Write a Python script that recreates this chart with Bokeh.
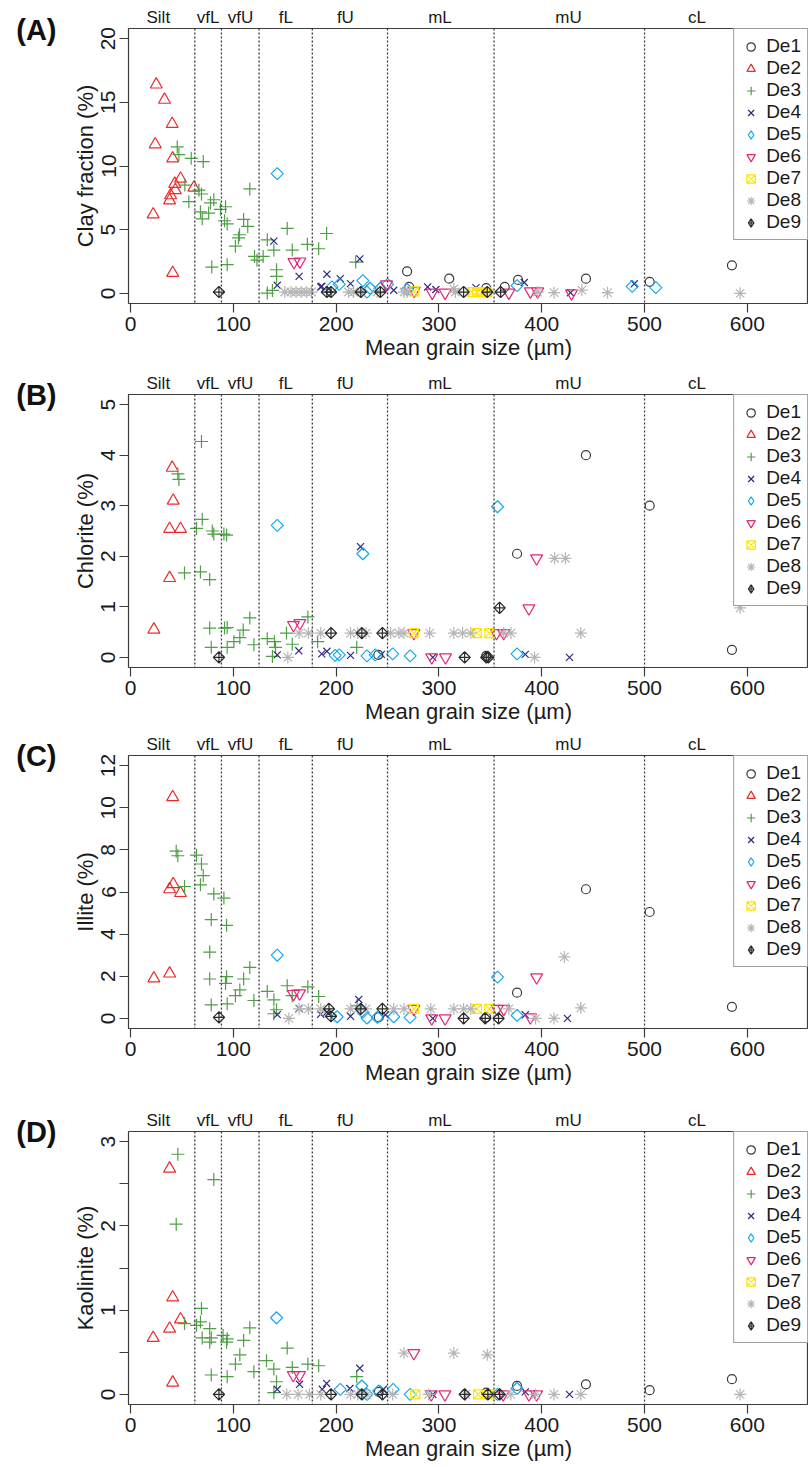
import numpy as np
from bokeh.plotting import figure
from bokeh.models import (Range1d, FixedTicker, Span, Legend, LegendItem, LinearAxis,
                          CDSView, IndexFilter)
from bokeh.layouts import column
from bokeh.embed import file_html
from bokeh.resources import INLINE

FONT = "Liberation Sans"

series_names = ["De1", "De2", "De3", "De4", "De5", "De6", "De7", "De8", "De9"]
series_colors = ["#3a3a3a", "#ec2a2a", "#4f9f45", "#2e2a84", "#14a8ee",
                 "#e42575", "#ffe400", "#b5b5b5", "#2a2a2a"]
series_markers = ["circle", "triangle", "cross", "x", "square",
                  "inverted_triangle", "square_x", "asterisk", "square_x"]
legend_markers = ["circle", "triangle", "cross", "x", "diamond",
                  "inverted_triangle", "square_x", "asterisk", "diamond_cross"]
series_angles = [0, 0, 0, 0, np.pi / 4, 0, 0, 0, np.pi / 4]
series_sizes = [9, 12, 13, 10, 8.5, 12, 9, 12, 8]

zone_edges = [62.5, 88.4, 125, 176.8, 250, 353.6, 500]
zone_labels = ["Silt", "vfL", "vfU", "fL", "fU", "mL", "mU", "cL"]
zone_label_x = [27, 75.5, 107, 151, 209, 301, 426, 551]

x_ticks = [0, 100, 200, 300, 400, 500, 600]

# ---------------- Panel A: clay fraction ----------------
a_de1_x = [269, 271, 310, 346, 364, 377, 443, 505, 585]
a_de1_y = [1.73, 0.5, 1.15, 0.4, 0.5, 1.05, 1.15, 0.9, 2.2]
a_de2_x = [22, 25, 33, 24, 40.5, 41, 48.6, 43, 43.5, 39, 38, 61.6, 41]
a_de2_y = [6.2, 16.4, 15.2, 11.7, 13.3, 10.6, 9.0, 8.6, 8.1, 7.7, 7.3, 8.3, 1.6]
a_de3_x = [45.4, 47, 59, 70.7, 52.8, 56.7, 66.5, 69, 68, 69.7, 77.8, 81, 76, 87.5, 92.4,
           91.4, 94, 110, 114, 106, 105, 102, 116, 120.6, 123, 129, 79, 94, 133, 139.4,
           142, 142, 133, 138, 152.4, 157.3, 172, 183, 190.7, 219]
a_de3_y = [11.5, 10.9, 10.6, 10.35, 8.5, 7.2, 8.1, 7.8, 6.4, 5.85, 7.1, 7.35, 6.3, 6.6, 6.8,
           5.7, 5.45, 5.8, 5.25, 4.6, 4.35, 3.7, 8.2, 2.9, 2.6, 2.9, 2.06, 2.25, 4.2, 3.4,
           1.85, 1.33, 0.02, 0.23, 5.1, 3.4, 3.85, 3.5, 4.7, 2.45]
a_de4_x = [139.4, 142.7, 164, 191, 204, 223, 214, 186, 185, 256, 289, 297, 336, 383, 428, 490]
a_de4_y = [4.1, 0.63, 1.33, 1.5, 1.15, 2.7, 0.76, 0.55, 0.5, 0.24, 0.5, 0.3, 0.45, 0.85, 0.05, 0.75]
a_de5_x = [142.7, 196, 203, 226, 233, 243, 250, 230, 269, 376, 488, 511]
a_de5_y = [9.4, 0.5, 0.7, 1.0, 0.4, 0.4, 0.7, 0.1, 0.3, 0.6, 0.55, 0.45]
a_de6_x = [159, 164.7, 249, 276, 293.5, 306, 368, 389, 396, 429]
a_de6_y = [2.45, 2.5, 0.7, 0.2, 0.05, 0.05, 0.05, 0.15, 0.15, 0.0]
a_de7_x = [276, 332, 337, 342, 347]
a_de7_y = [0.15, 0.1, 0.1, 0.1, 0.1]
a_de8_x = [150, 156, 161, 166, 171, 176, 212, 217, 224, 240, 266, 269, 314.5, 316, 396, 412,
           439, 464, 593]
a_de8_y = [0.1, 0.1, 0.1, 0.1, 0.1, 0.1, 0.1, 0.1, 0.1, 0.1, 0.1, 0.1, 0.35, 0.1, 0.1, 0.05,
           0.25, 0.05, 0.0]
a_de9_x = [86, 191, 195, 224, 243, 324, 347, 360]
a_de9_y = [0.1, 0.1, 0.1, 0.1, 0.1, 0.1, 0.1, 0.1]

# ---------------- Panel B: chlorite ----------------
b_de1_x = [241, 346, 376, 443, 505, 585]
b_de1_y = [0.05, 0.03, 2.05, 4.0, 3.0, 0.15]
b_de2_x = [22.7, 38, 38, 48.6, 41.5, 40.5]
b_de2_y = [0.55, 1.57, 2.54, 2.54, 3.1, 3.75]
b_de3_x = [69, 46, 47, 69.7, 64.2, 79.5, 81, 90.8, 93.4, 52.5, 68, 77, 77, 91.4, 94,
           116, 109.6, 106.3, 100.5, 78.5, 94, 120, 133, 140, 141, 151.7, 157.3, 172.5, 182,
           220, 138]
b_de3_y = [4.27, 3.63, 3.52, 2.73, 2.55, 2.5, 2.44, 2.44, 2.42, 1.67, 1.69, 1.54, 0.58, 0.58,
           0.59, 0.78, 0.54, 0.39, 0.31, 0.2, 0.2, 0.25, 0.37, 0.31, 0.2, 0.48, 0.26, 0.8, 0.31,
           0.2, 0.02]
b_de4_x = [142.7, 163.7, 186, 191, 214, 223.7, 244, 294, 384, 427]
b_de4_y = [0.05, 0.13, 0.07, 0.12, 0.04, 2.19, 0.06, 0.0, 0.06, 0.0]
b_de5_x = [142.7, 226, 357, 199, 203, 230, 238, 255, 272, 376]
b_de5_y = [2.61, 2.05, 2.98, 0.04, 0.05, 0.03, 0.05, 0.07, 0.03, 0.07]
b_de6_x = [158.5, 164.7, 275.6, 293, 306.4, 356, 363, 387.5, 395]
b_de6_y = [0.64, 0.68, 0.48, 0.0, 0.0, 0.48, 0.48, 0.97, 1.96]
b_de7_x = [275.6, 337, 349]
b_de7_y = [0.48, 0.48, 0.48]
b_de8_x = [153, 164, 173, 185, 214, 221, 229, 253, 261, 266, 291, 314.5, 323, 331, 363, 370,
           393, 412.5, 423, 438, 593]
b_de8_y = [0.0, 0.48, 0.48, 0.48, 0.48, 0.48, 0.48, 0.48, 0.48, 0.48, 0.48, 0.48, 0.48, 0.48,
           0.48, 0.48, 0.0, 1.96, 1.96, 0.48, 0.98]
b_de9_x = [86, 195, 225, 245, 325, 346, 348, 359]
b_de9_y = [0.0, 0.48, 0.48, 0.48, 0.0, 0.0, 0.0, 0.98]

# ---------------- Panel C: illite ----------------
c_de1_x = [241.5, 346, 376, 443, 505, 585]
c_de1_y = [0.06, 0.05, 1.22, 6.13, 5.05, 0.55]
c_de2_x = [22.7, 38, 38, 41.5, 48.6, 41]
c_de2_y = [1.9, 2.13, 6.13, 6.37, 5.95, 10.5]
c_de3_x = [44.4, 46, 64.2, 69, 70.7, 68, 52.5, 81, 90.8, 78.5, 93.4, 77, 77, 93.4, 92.4,
           116, 110, 106.3, 102, 78.5, 94, 120, 133, 139.4, 142, 152.4, 157.3, 172.5, 183,
           220.5, 139.4]
c_de3_y = [7.94, 7.72, 7.75, 7.33, 6.78, 6.34, 6.26, 5.91, 5.71, 4.69, 4.42, 3.15, 1.87, 1.98,
           1.66, 2.42, 1.87, 1.35, 1.08, 0.64, 0.69, 0.85, 1.28, 0.88, 0.41, 1.55, 1.08, 1.5,
           1.04, 0.61, 0.22]
c_de4_x = [142.7, 164, 185, 191, 214, 222, 248, 294, 384, 425]
c_de4_y = [0.18, 0.47, 0.2, 0.3, 0.1, 0.9, 0.17, 0.0, 0.17, 0.0]
c_de5_x = [142.7, 357, 201, 226, 230, 240, 256, 272, 376]
c_de5_y = [3.0, 1.96, 0.08, 0.3, 0.02, 0.05, 0.08, 0.05, 0.14]
c_de6_x = [158.5, 164.4, 275.6, 293, 306, 356.6, 363, 389, 395]
c_de6_y = [1.16, 1.19, 0.45, 0.0, 0.0, 0.45, 0.45, 0.05, 1.95]
c_de7_x = [275.6, 337, 349]
c_de7_y = [0.45, 0.45, 0.45]
c_de8_x = [154, 164, 173, 185, 214, 221, 229, 256, 266, 292, 314.5, 324, 331, 368, 394, 412,
           422, 438, 592]
c_de8_y = [0.0, 0.45, 0.45, 0.45, 0.45, 0.45, 0.45, 0.45, 0.45, 0.45, 0.45, 0.45, 0.45, 0.45,
           0.0, 0.0, 2.92, 0.5, 3.94]
c_de9_x = [86, 193, 195, 224, 245, 324, 345, 358]
c_de9_y = [0.05, 0.45, 0.1, 0.45, 0.45, 0.0, 0.0, 0.0]

# ---------------- Panel D: kaolinite ----------------
d_de1_x = [241.5, 346, 376, 443, 505, 585]
d_de1_y = [0.03, 0.02, 0.1, 0.12, 0.05, 0.18]
d_de2_x = [22, 38, 38, 48.6, 41, 41]
d_de2_y = [0.67, 0.78, 2.68, 0.89, 1.15, 0.14]
d_de3_x = [46, 44.4, 81, 52.5, 64.2, 69, 68, 77, 69.7, 78.5, 77, 90, 93.4, 94, 110, 116, 106.3,
           102, 78.5, 94, 120, 132.3, 139.4, 142, 139.4, 152.4, 157.3, 172.5, 183, 220]
d_de3_y = [2.85, 2.02, 2.55, 0.84, 0.82, 1.02, 0.86, 0.78, 0.67, 0.67, 0.62, 0.7, 0.62, 0.66,
           0.64, 0.79, 0.47, 0.36, 0.23, 0.21, 0.27, 0.4, 0.3, 0.15, 0.02, 0.55, 0.32, 0.36,
           0.34, 0.21]
d_de4_x = [142.7, 164.4, 186.5, 190.7, 213.4, 223, 246, 294, 384, 427]
d_de4_y = [0.06, 0.12, 0.06, 0.13, 0.07, 0.31, 0.06, 0.0, 0.03, 0.0]
d_de5_x = [142, 204, 225, 230, 241.5, 255.5, 272, 357, 376]
d_de5_y = [0.91, 0.06, 0.1, 0.0, 0.04, 0.06, 0.0, 0.0, 0.07]
d_de6_x = [158.3, 164.4, 275.6, 292.5, 305.8, 362.5, 387.5, 395]
d_de6_y = [0.23, 0.23, 0.49, 0.0, 0.0, 0.0, 0.0, 0.0]
d_de7_x = [277, 338, 349]
d_de7_y = [0.0, 0.0, 0.0]
d_de8_x = [152, 163, 174, 185, 214, 221, 230, 255, 266, 290, 314.5, 326, 347, 370, 394, 412,
           438, 593]
d_de8_y = [0, 0, 0, 0, 0, 0, 0, 0, 0.49, 0, 0.49, 0, 0.47, 0, 0, 0, 0, 0]
d_de9_x = [86, 195, 225, 245, 325, 347.6, 359]
d_de9_y = [0, 0, 0, 0, 0, 0, 0]

panel_a = [(a_de1_x, a_de1_y), (a_de2_x, a_de2_y), (a_de3_x, a_de3_y), (a_de4_x, a_de4_y),
           (a_de5_x, a_de5_y), (a_de6_x, a_de6_y), (a_de7_x, a_de7_y), (a_de8_x, a_de8_y),
           (a_de9_x, a_de9_y)]
panel_b = [(b_de1_x, b_de1_y), (b_de2_x, b_de2_y), (b_de3_x, b_de3_y), (b_de4_x, b_de4_y),
           (b_de5_x, b_de5_y), (b_de6_x, b_de6_y), (b_de7_x, b_de7_y), (b_de8_x, b_de8_y),
           (b_de9_x, b_de9_y)]
panel_c = [(c_de1_x, c_de1_y), (c_de2_x, c_de2_y), (c_de3_x, c_de3_y), (c_de4_x, c_de4_y),
           (c_de5_x, c_de5_y), (c_de6_x, c_de6_y), (c_de7_x, c_de7_y), (c_de8_x, c_de8_y),
           (c_de9_x, c_de9_y)]
panel_d = [(d_de1_x, d_de1_y), (d_de2_x, d_de2_y), (d_de3_x, d_de3_y), (d_de4_x, d_de4_y),
           (d_de5_x, d_de5_y), (d_de6_x, d_de6_y), (d_de7_x, d_de7_y), (d_de8_x, d_de8_y),
           (d_de9_x, d_de9_y)]

X0, X1 = -2, 659.5
FRAME_H = 275
AX_COLOR = "#3c3c3c"
TXT_COLOR = "#1a1a1a"


def make_panel(tag, ylabel, ymax, yticks, ytick_text, data, top, bottom):
    pad = ymax * 0.04
    y0, y1 = -pad, ymax + pad
    p = figure(width=808, height=top + FRAME_H + bottom, output_backend="svg",
               toolbar_location=None, title=None,
               x_range=Range1d(X0, X1), y_range=Range1d(y0, y1),
               min_border_left=128, min_border_right=0,
               min_border_top=top, min_border_bottom=bottom)
    p.grid.visible = False
    p.outline_line_color = AX_COLOR
    p.outline_line_width = 1.2
    p.background_fill_color = "white"
    p.border_fill_color = "white"

    for ax in (p.xaxis[0], p.yaxis[0]):
        ax.axis_line_color = None
        ax.major_tick_line_color = AX_COLOR
        ax.major_tick_line_width = 1.2
        ax.major_tick_out = 9
        ax.major_tick_in = 0
        ax.minor_tick_line_color = None
        ax.major_label_text_font = FONT
        ax.major_label_text_font_size = "21px"
        ax.major_label_text_color = TXT_COLOR
        ax.axis_label_text_font = FONT
        ax.axis_label_text_font_size = "22px"
        ax.axis_label_text_font_style = "normal"
        ax.axis_label_text_color = TXT_COLOR

    p.xaxis.ticker = FixedTicker(ticks=x_ticks)
    p.xaxis.axis_label = "Mean grain size (µm)"
    p.xaxis.major_label_standoff = 4
    p.xaxis.axis_label_standoff = 1

    p.yaxis.ticker = FixedTicker(ticks=yticks)
    p.yaxis.major_label_overrides = {t: s for t, s in zip(yticks, ytick_text)}
    p.yaxis.major_label_orientation = "vertical"
    p.yaxis.major_label_standoff = 4
    p.yaxis.axis_label = ylabel
    p.yaxis.axis_label_standoff = 1

    # grain-size class names above the frame
    zone_axis = LinearAxis(ticker=FixedTicker(ticks=zone_label_x),
                           major_label_overrides={zx: zt for zx, zt in
                                                  zip(zone_label_x, zone_labels)},
                           axis_line_color=None, major_tick_line_color=None,
                           minor_tick_line_color=None, major_tick_out=0, major_tick_in=0,
                           major_label_standoff=2, major_label_text_font=FONT,
                           major_label_text_font_size="17px",
                           major_label_text_color=TXT_COLOR)
    p.add_layout(zone_axis, "above")

    # panel tag "(A)" etc. placed via an outer left axis in pixel units
    p.extra_y_ranges = {"px": Range1d(0, FRAME_H)}
    tag_axis = LinearAxis(y_range_name="px", ticker=FixedTicker(ticks=[FRAME_H - 1]),
                          major_label_overrides={FRAME_H - 1: tag},
                          axis_line_color=None, major_tick_line_color=None,
                          minor_tick_line_color=None, major_tick_out=0, major_tick_in=0,
                          major_label_standoff=13, major_label_orientation="horizontal",
                          major_label_text_font=FONT, major_label_text_font_size="29px",
                          major_label_text_font_style="bold",
                          major_label_text_color="#111111")
    p.add_layout(tag_axis, "left")

    for e in zone_edges:
        p.add_layout(Span(location=e, dimension="height", line_color=AX_COLOR,
                          line_width=1.3, line_dash="2 2"))

    items = []
    for (xs, ys), name, col, mk, lmk, ang, sz in zip(data, series_names, series_colors,
                                                    series_markers, legend_markers,
                                                    series_angles, series_sizes):
        r = p.scatter(xs, ys, marker=mk, size=sz, angle=ang, line_color=col,
                      fill_color=None, line_width=1.2)
        if lmk != mk:
            # legend-symbol renderer: same data, zero marker size in the plot
            r = p.scatter(xs, ys, marker=lmk, size=0, line_color=col, fill_color=None,
                          line_width=1.2, view=CDSView(filter=IndexFilter([0])))
        items.append(LegendItem(label=name, renderers=[r]))

    legend = Legend(items=items, location="top_right", margin=0,
                    padding=6, spacing=0, label_height=21, glyph_height=21, glyph_width=21,
                    label_standoff=5, label_text_font=FONT, label_text_font_size="19px",
                    label_text_color=TXT_COLOR, border_line_color=AX_COLOR,
                    border_line_width=1.2, background_fill_color="white",
                    background_fill_alpha=1.0)
    p.add_layout(legend)
    return p


pa = make_panel("(A)", "Clay fraction (%)", 20, [0, 5, 10, 15, 20],
                ["0", "5", "10", "15", "20"], panel_a, 28, 67)
pb = make_panel("(B)", "Chlorite (%)", 5, [0, 1, 2, 3, 4, 5],
                ["0", "1", "2", "3", "4", "5"], panel_b, 22, 64)
pc = make_panel("(C)", "Illite (%)", 12, [0, 2, 4, 6, 8, 10, 12],
                ["0", "2", "4", "6", "8", "10", "12"], panel_c, 22, 79)
pd_ = make_panel("(D)", "Kaolinite (%)", 3, [0, 0.5, 1, 1.5, 2, 2.5, 3],
                 ["0", "", "1", "", "2", "", "3"], panel_d, 22, 63)

layout = column(pa, pb, pc, pd_, spacing=0)

with open("out.html", "w") as f:
    f.write(file_html(layout, INLINE))
